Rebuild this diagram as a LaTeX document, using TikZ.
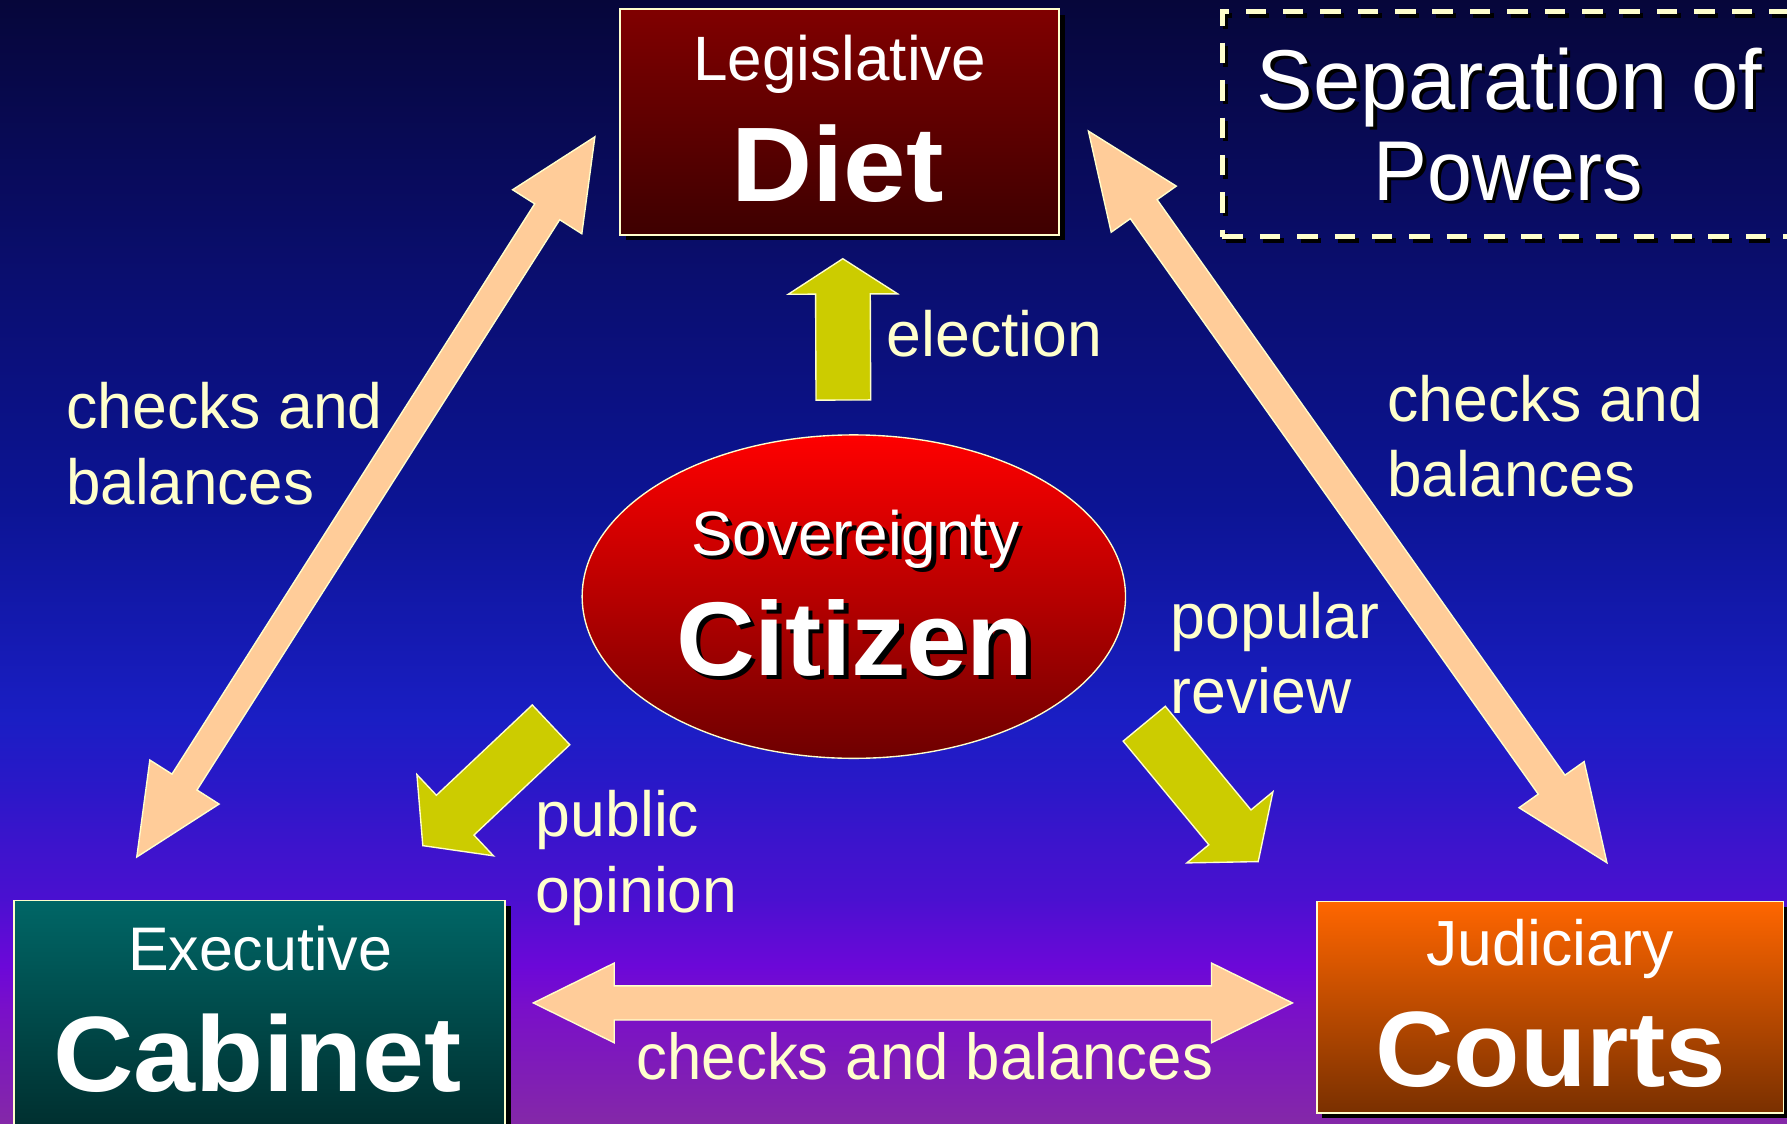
\documentclass[tikz,border=0pt]{standalone}
\usepackage{fontspec}
\setmainfont{Liberation Sans}
\usepackage{graphicx}
\usetikzlibrary{calc,shadows,shapes.geometric}

\definecolor{bg0}{HTML}{06063A}
\definecolor{bg1}{HTML}{0A0E70}
\definecolor{bg2}{HTML}{0C1494}
\definecolor{bg3}{HTML}{1A1EC4}
\definecolor{bg4}{HTML}{2A18C8}
\definecolor{bg5}{HTML}{3C14CC}
\definecolor{bg6}{HTML}{4A10D0}
\definecolor{bg7}{HTML}{6C08D8}
\definecolor{bg8}{HTML}{7A10C8}
\definecolor{bg9}{HTML}{8428A8}
\definecolor{cream}{HTML}{FFFFCC}
\definecolor{peach}{HTML}{FFCC99}
\definecolor{olivey}{HTML}{CCCC00}
\definecolor{dietT}{HTML}{800000}
\definecolor{dietB}{HTML}{3E0000}
\definecolor{exT}{HTML}{006666}
\definecolor{exB}{HTML}{002C2C}
\definecolor{ctT}{HTML}{FF6600}
\definecolor{ctB}{HTML}{7A3000}
\definecolor{citT}{HTML}{FF0000}
\definecolor{citB}{HTML}{6E0000}

\pgfdeclareverticalshading{bgshade}{100bp}{color(0bp)=(bg9); color(25bp)=(bg9); color(30bp)=(bg8); color(32bp)=(bg7); color(35bp)=(bg6); color(37.5bp)=(bg5); color(40bp)=(bg4); color(43bp)=(bg3); color(52.5bp)=(bg2); color(62.5bp)=(bg1); color(75bp)=(bg0); color(100bp)=(bg0)}

\newcommand\fs[1]{\fontsize{#1}{#1}\selectfont}
\newcommand\hs[2]{\scalebox{#1}[1]{#2}}
% text with a black drop shadow, in one box
\newcommand\shadowed[3]{\rlap{\kern#1\raisebox{-#2}{\color{black}#3}}#3}

% double block arrow: style, end A, end B, head length, half head width, half shaft width
\newcommand\dblarrow[6]{%
  \filldraw[#1] (#2) -- ($(#2)!#4!(#3)!#5!90:(#3)$) -- ($(#2)!#4!(#3)!#6!90:(#3)$)
    -- ($(#3)!#4!(#2)!#6!-90:(#2)$) -- ($(#3)!#4!(#2)!#5!-90:(#2)$) -- (#3)
    -- ($(#3)!#4!(#2)!#5!90:(#2)$) -- ($(#3)!#4!(#2)!#6!90:(#2)$)
    -- ($(#2)!#4!(#3)!#6!-90:(#3)$) -- ($(#2)!#4!(#3)!#5!-90:(#3)$) -- cycle;}
% single block arrow: style, tail, tip, head length, half head width, half shaft width
\newcommand\sglarrow[6]{%
  \filldraw[#1] ($(#2)!#6!90:(#3)$) -- ($(#3)!#4!(#2)!#6!-90:(#2)$) -- ($(#3)!#4!(#2)!#5!-90:(#2)$)
    -- (#3) -- ($(#3)!#4!(#2)!#5!90:(#2)$) -- ($(#3)!#4!(#2)!#6!90:(#2)$)
    -- ($(#2)!#6!-90:(#3)$) -- cycle;}

\begin{document}
\begin{tikzpicture}[x=1pt,y=-1pt,
  box/.style={draw=cream, line width=1.5pt, inner sep=0pt, rectangle,
    drop shadow={shadow xshift=5pt, shadow yshift=-5pt, opacity=1, fill=black}},
  t/.style={inner sep=0pt, anchor=base},
  lab/.style={inner sep=0pt, anchor=base west, text=cream, font=\fs{56}},
  peacharrow/.style={fill=peach, draw=cream, line width=1.2pt, line join=miter},
  olivearrow/.style={fill=olivey, draw=cream, line width=1.2pt, line join=miter},
  dashbox/.style={line width=4.4pt, dash pattern=on 18pt off 14.8pt, inner sep=0pt,
    minimum width=560pt, minimum height=197.5pt, rectangle}
]
\useasboundingbox (0,0) rectangle (1568,986);
\clip (0,0) rectangle (1568,986);
\shade[shading=bgshade] (0,0) rectangle (1568,986);

% boxes
\node[box, top color=dietT, bottom color=dietB, minimum width=385.5pt, minimum height=198pt] (diet) at (736.75,107) {};
\node[box, top color=exT, bottom color=exB, minimum width=431pt, minimum height=210pt] (exec) at (227.5,895) {};
\node[box, top color=ctT, bottom color=ctB, minimum width=409.7pt, minimum height=185.3pt] (courts) at (1360.15,883.65) {};
\node[ellipse, draw=cream, line width=1.2pt, top color=citT, bottom color=citB,
  minimum width=476.8pt, minimum height=283.8pt, inner sep=0pt] (cit) at (749.2,523.5) {};

% dashed title box
\node[dashbox, draw=black] (sepboxS) at (1355.6,111.95) {};
\node[dashbox, draw=cream] (sepbox) at (1352.6,108.95) {};

% peach double arrows
\coordinate (lA) at (522,120); \coordinate (lB) at (120,752);
\dblarrow{peacharrow}{lA}{lB}{78pt}{36pt}{13pt}
\coordinate (rA) at (955,115); \coordinate (rB) at (1410,757);
\dblarrow{peacharrow}{rA}{rB}{84pt}{35pt}{14.4pt}
\coordinate (hA) at (468,880); \coordinate (hB) at (1134,880);
\dblarrow{peacharrow}{hA}{hB}{71pt}{35pt}{15pt}

% yellow arrows
\coordinate (eT) at (740,351); \coordinate (eH) at (739.5,227);
\sglarrow{olivearrow}{eT}{eH}{31pt}{48pt}{24pt}
\coordinate (pT) at (483.5,636); \coordinate (pH) at (371,742);
\sglarrow{olivearrow}{pT}{pH}{39pt}{49pt}{24pt}
\coordinate (qT) at (1004,635); \coordinate (qH) at (1104,756);
\sglarrow{olivearrow}{qT}{qH}{39pt}{49pt}{24pt}

% box texts
\node[t, text=white] (legis) at (737,70.5) {\fs{55}\hs{0.99}{Legislative}};
\node[t, text=white] (dietname) at (735,176.5) {\fs{93}\bfseries\hs{1.06}{Diet}};
\node[t, text=white] (execut) at (228.2,851.7) {\fs{54}\hs{0.99}{Executive}};
\node[t, text=white] (cabinet) at (226,958) {\fs{94}\bfseries\hs{1.04}{Cabinet}};
\node[t, text=white] (judic) at (1360,847) {\fs{56}\hs{0.98}{Judiciary}};
\node[t, text=white] (courtsname) at (1360.5,953.5) {\fs{94}\bfseries\hs{1.015}{Courts}};

% shadowed texts
\node[t, text=white] (sov) at (750.5,487) {\fs{55}\hs{0.99}{\shadowed{4pt}{3.5pt}{Sovereignty}}};
\node[t, text=white] (citname) at (750,592.3) {\fs{92}\bfseries\hs{1.04}{\shadowed{4pt}{3.7pt}{Citizen}}};
\node[t, text=white] (sep1) at (1324.5,96) {\fs{74.5}\hs{1.0}{\shadowed{3pt}{3pt}{Separation of}}};
\node[t, text=white] (sep2) at (1323.5,175.5) {\fs{74.5}\hs{0.95}{\shadowed{3pt}{3pt}{Powers}}};

% labels
\node[lab] (elec) at (778,312.5) {\hs{0.98}{election}};
\node[lab] (cbL1) at (58,375.7) {\hs{0.98}{checks and}};
\node[lab] (cbL2) at (58,443) {\hs{0.97}{balances}};
\node[lab] (cbR1) at (1217,370) {\hs{0.98}{checks and}};
\node[lab] (cbR2) at (1217,436) {\hs{0.97}{balances}};
\node[lab] (pop1) at (1027,560) {\hs{0.98}{popular}};
\node[lab] (pop2) at (1027,626) {\hs{0.98}{review}};
\node[lab] (pub1) at (470,734) {\hs{0.98}{public}};
\node[lab] (pub2) at (470,801) {\hs{0.98}{opinion}};
\node[t, text=cream] (cbB) at (811.5,947.6) {\fs{57}\hs{0.95}{checks and balances}};
\end{tikzpicture}
\end{document}
